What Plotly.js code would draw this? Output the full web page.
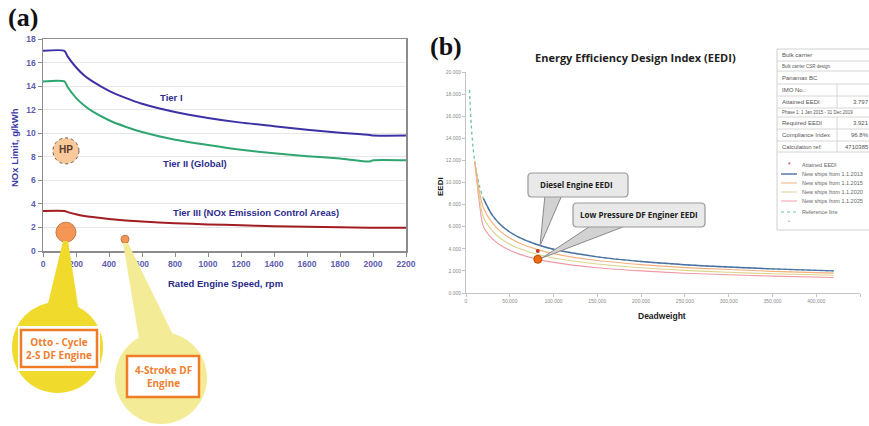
<!DOCTYPE html>
<html><head><meta charset="utf-8">
<script src="https://cdn.plot.ly/plotly-3.0.1.min.js"></script>
<style>html,body{margin:0;padding:0;background:#fff;} #chart{width:869px;height:426px;}</style>
</head><body><div id="chart"></div>
<script>
// ---------- Panel (a): IMO NOx limits ----------
const rpm     = [0, 130, 150, 200, 250, 300, 400, 500, 600, 800, 1000, 1200, 1400, 1600, 1800, 1980, 2000, 2200];
const tierI   = [17.0, 17.0, 16.5, 15.6, 14.9, 14.4, 13.6, 13.0, 12.5, 11.8, 11.3, 10.9, 10.6, 10.3, 10.05, 9.85, 9.8, 9.8];
const tierII  = [14.4, 14.4, 13.9, 13.0, 12.35, 11.85, 11.1, 10.55, 10.1, 9.45, 9.0, 8.6, 8.3, 8.05, 7.85, 7.6, 7.7, 7.7];
const tierIII = [3.4, 3.4, 3.3, 3.12, 2.98, 2.88, 2.72, 2.6, 2.5, 2.36, 2.26, 2.18, 2.11, 2.06, 2.01, 1.97, 1.97, 1.97];
const tierNames = ['Tier I', 'Tier II (Global)', 'Tier III (NOx Emission Control Areas)'];
const tierLabelX = [776, 921, 1291];
const tierLabelY = [13.0, 7.47, 3.31];
const hpX = [139], hpY = [8.5], hpText = ['HP'];
const engineX = [139, 497], engineY = [1.6, 1.0];
const engineLabels = ['Otto - Cycle<br>2-S DF Engine', '4-Stroke DF<br>Engine'];

// ---------- Panel (b): EEDI ----------
const dwtRef   = [4000, 6000, 8000, 10000, 15000, 20000, 30000, 40000, 50000, 60000, 80000, 100000, 150000, 200000, 250000, 300000, 350000, 420000];
const eediRef  = [18.40, 15.17, 13.23, 11.89, 9.80, 8.54, 7.04, 6.14, 5.52, 5.06, 4.41, 3.96, 3.27, 2.85, 2.56, 2.35, 2.18, 2.00];
const dwt2013  = [20000, 30000, 40000, 50000, 60000, 80000, 100000, 150000, 200000, 250000, 300000, 350000, 420000];
const eedi2013 = [8.54, 7.04, 6.14, 5.52, 5.06, 4.41, 3.96, 3.27, 2.85, 2.56, 2.35, 2.18, 2.00];
const dwtPhase = [10000, 15000, 20000, 30000, 40000, 50000, 60000, 80000, 100000, 150000, 200000, 250000, 300000, 350000, 420000];
const eedi2015 = [11.89, 9.31, 7.69, 6.34, 5.53, 4.97, 4.55, 3.97, 3.56, 2.94, 2.57, 2.30, 2.12, 1.96, 1.80];
const eedi2020 = [11.89, 8.82, 6.83, 5.63, 4.91, 4.42, 4.05, 3.53, 3.17, 2.62, 2.28, 2.05, 1.88, 1.74, 1.60];
const eedi2025 = [11.89, 8.33, 5.98, 4.93, 4.30, 3.86, 3.54, 3.09, 2.77, 2.29, 2.00, 1.79, 1.65, 1.53, 1.40];
const attainedX = [82000], attainedY = [3.797];
const lpdfX = [82000], lpdfY = [3.05];
const bSeriesNames = ['Attained EEDI', 'New ships from 1.1.2013', 'New ships from 1.1.2015', 'New ships from 1.1.2020', 'New ships from 1.1.2025', 'Reference line', '*'];
const bSeriesColors = ['#c0392b', '#4a6fa5', '#f3b07a', '#ddd48a', '#f09aa6', '#6cc3a0', '#8fa8c8'];
const tableLabels = ['Bulk carrier', 'Bulk carrier CSR design', 'Panamax BC', 'IMO No.:', 'Attained EEDI', 'Phase 1: 1 Jan 2015 - 31 Dec 2019', 'Required EEDI', 'Compliance Index', 'Calculation ref:'];
const tableValues = ['', '', '', '', '3.797', '', '3.921', '96.8%', '4710385'];

// ---------- helpers (pixel -> paper) ----------
const W = 869, H = 426;
const X = v => v / W, Y = v => 1 - v / H;
const P = (x, y) => X(x).toFixed(5) + ',' + Y(y).toFixed(5);
function poly(pts) { return 'M' + pts.map(p => P(p[0], p[1])).join(' L') + ' Z'; }
function rrect(x0, y0, x1, y1, r) {
  return 'M' + P(x0 + r, y0) + ' L' + P(x1 - r, y0) + ' Q' + P(x1, y0) + ' ' + P(x1, y0 + r) +
    ' L' + P(x1, y1 - r) + ' Q' + P(x1, y1) + ' ' + P(x1 - r, y1) +
    ' L' + P(x0 + r, y1) + ' Q' + P(x0, y1) + ' ' + P(x0, y1 - r) +
    ' L' + P(x0, y0 + r) + ' Q' + P(x0, y0) + ' ' + P(x0 + r, y0) + ' Z';
}
function circ(cx, cy, r, fill, line) {
  return {type: 'circle', xref: 'paper', yref: 'paper', x0: X(cx - r), x1: X(cx + r), y0: Y(cy + r), y1: Y(cy - r),
    fillcolor: fill, line: {width: line ? 1 : 0, color: line || fill}};
}
function rect(x0, y0, x1, y1, fill, lc, lw) {
  return {type: 'rect', xref: 'paper', yref: 'paper', x0: X(x0), x1: X(x1), y0: Y(y1), y1: Y(y0),
    fillcolor: fill, line: {width: lw || 0, color: lc || fill}};
}
function path(d, fill, lc, lw) {
  return {type: 'path', xref: 'paper', yref: 'paper', path: d, fillcolor: fill, line: {width: lw || 0, color: lc || fill}};
}
function line(x0, y0, x1, y1, c, w, dash) {
  return {type: 'line', xref: 'paper', yref: 'paper', x0: X(x0), x1: X(x1), y0: Y(y0), y1: Y(y1), line: {color: c, width: w, dash: dash || 'solid'}};
}
function txt(x, y, text, size, color, opts) {
  return Object.assign({xref: 'paper', yref: 'paper', x: X(x), y: Y(y), text: text, showarrow: false,
    xanchor: 'center', yanchor: 'middle', font: {family: 'Liberation Sans, Arial, sans-serif', size: size, color: color}}, opts || {});
}

// ---------- traces ----------
const tierColors = ['#3c31a6', '#2fa56f', '#a11d22'];
const traces = [];
[tierI, tierII, tierIII].forEach((ys, i) => traces.push({
  x: rpm, y: ys, name: tierNames[i], type: 'scatter', mode: 'lines', xaxis: 'x', yaxis: 'y',
  line: {color: tierColors[i], width: 2, shape: 'spline', smoothing: 0.6}, showlegend: false, hoverinfo: 'skip'}));
traces.push({x: hpX, y: hpY, text: hpText, type: 'scatter', mode: 'markers+text', xaxis: 'x', yaxis: 'y',
  marker: {size: 26, color: '#f9c89b', line: {width: 0}}, textposition: 'middle center',
  textfont: {family: 'Liberation Sans, Arial', size: 10, color: '#5a3a2a', weight: 'bold'}, showlegend: false, hoverinfo: 'skip'});
traces.push({x: engineX, y: engineY, type: 'scatter', mode: 'markers', xaxis: 'x', yaxis: 'y', cliponaxis: false,
  marker: {size: [20, 8], color: '#f26b10', line: {width: 1, color: '#a44200'}}, showlegend: false, hoverinfo: 'skip'});

const spl = {shape: 'spline', smoothing: 0.8};
traces.push({x: dwtRef, y: eediRef, name: bSeriesNames[5], type: 'scatter', mode: 'lines', xaxis: 'x2', yaxis: 'y2',
  line: Object.assign({color: bSeriesColors[5], width: 1.3, dash: 'dot'}, spl), showlegend: false, hoverinfo: 'skip'});
traces.push({x: dwtPhase, y: eedi2025, name: bSeriesNames[4], type: 'scatter', mode: 'lines', xaxis: 'x2', yaxis: 'y2',
  line: Object.assign({color: bSeriesColors[4], width: 1.1}, spl), showlegend: false, hoverinfo: 'skip'});
traces.push({x: dwtPhase, y: eedi2020, name: bSeriesNames[3], type: 'scatter', mode: 'lines', xaxis: 'x2', yaxis: 'y2',
  line: Object.assign({color: bSeriesColors[3], width: 1.1}, spl), showlegend: false, hoverinfo: 'skip'});
traces.push({x: dwtPhase, y: eedi2015, name: bSeriesNames[2], type: 'scatter', mode: 'lines', xaxis: 'x2', yaxis: 'y2',
  line: Object.assign({color: bSeriesColors[2], width: 1.1}, spl), showlegend: false, hoverinfo: 'skip'});
traces.push({x: dwt2013, y: eedi2013, name: bSeriesNames[1], type: 'scatter', mode: 'lines', xaxis: 'x2', yaxis: 'y2',
  line: Object.assign({color: bSeriesColors[1], width: 1.4}, spl), showlegend: false, hoverinfo: 'skip'});
traces.push({x: attainedX, y: attainedY, name: bSeriesNames[0], type: 'scatter', mode: 'markers', xaxis: 'x2', yaxis: 'y2',
  marker: {size: 4, color: bSeriesColors[0]}, showlegend: false, hoverinfo: 'skip'});
traces.push({x: lpdfX, y: lpdfY, name: 'Low Pressure DF', type: 'scatter', mode: 'markers', xaxis: 'x2', yaxis: 'y2',
  marker: {size: 8, color: '#f26b10', line: {width: 1, color: '#b04a00'}}, showlegend: false, hoverinfo: 'skip'});

// ---------- shapes ----------
const shapes = [];
shapes.push({type: 'circle', xref: 'x', yref: 'y', xsizemode: 'pixel', ysizemode: 'pixel', xanchor: hpX[0], yanchor: hpY[0],
  x0: -13, x1: 13, y0: -13, y1: 13, line: {color: '#6a5a4a', width: 1, dash: 'dot'}, fillcolor: 'rgba(0,0,0,0)'});
// callout 1 (bright yellow)
shapes.push(path(poly([[63, 241], [68, 241], [79, 312], [46, 312]]), '#f0da2c'));
shapes.push(circ(57.5, 347.5, 45.5, '#f0da2c'));
shapes.push(rect(18, 326, 100, 371, '#ffffff'));
shapes.push(rect(21, 330, 97, 367, '#ffffff', '#f07c28', 2.5));
// callout 2 (pale yellow)
shapes.push(path(poly([[123, 243], [128, 243], [178, 345], [140, 345]]), '#f3eb95'));
shapes.push(circ(161, 378, 46, '#f3eb95'));
shapes.push(rect(127, 356, 199, 397, '#ffffff', '#f07c28', 2.5));
// panel b callouts
shapes.push(path(poly([[545, 195], [562, 195], [540, 246]]), '#d2d2d2', '#8a8a8a', 1));
shapes.push(path(rrect(528, 173, 628, 197, 4), '#e9e9e9', '#9a9a9a', 1.2));
shapes.push(path(poly([[592, 225], [628, 225], [542, 258]]), '#d2d2d2', '#8a8a8a', 1));
shapes.push(path(rrect(573, 203, 705, 227, 4), '#e9e9e9', '#9a9a9a', 1.2));
// table
const tTop = 49, rowB = [49, 61, 71, 84, 96, 108, 117, 129, 141, 152];
shapes.push(rect(777, tTop, 875, 230, '#ffffff', '#d0d0d0', 1));
for (let i = 1; i < rowB.length; i++) shapes.push(line(777, rowB[i], 875, rowB[i], '#d6d6d6', 1));
[3, 4, 6, 7, 8].forEach(i => shapes.push(line(837, rowB[i], 837, rowB[i + 1], '#d6d6d6', 1)));
const legY = [165, 174, 183, 192, 201, 212, 221];
[1, 2, 3, 4].forEach(i => shapes.push(line(781, legY[i], 797, legY[i], bSeriesColors[i], i === 1 ? 1.4 : 1)));
shapes.push(line(781, legY[5], 797, legY[5], bSeriesColors[5], 1.2, 'dot'));

// ---------- annotations ----------
const ann = [];
ann.push(txt(23, 17, '<b>(a)</b>', 26, '#111', {font: {family: 'Liberation Serif, Times New Roman, serif', size: 26, color: '#111'}}));
ann.push(txt(446, 46, '<b>(b)</b>', 26, '#111', {font: {family: 'Liberation Serif, Times New Roman, serif', size: 26, color: '#111'}}));
tierNames.forEach((n, i) => ann.push({xref: 'x', yref: 'y', x: tierLabelX[i], y: tierLabelY[i], text: '<b>' + n + '</b>', showarrow: false,
  font: {family: 'Liberation Sans, Arial', size: 9.5, color: '#2e2e8e'}}));
ann.push(txt(14, 148, '<b>NOx Limit, g/kWh</b>', 9.5, '#3a3aa6', {textangle: -90}));
ann.push(txt(225, 283, '<b>Rated Engine Speed, rpm</b>', 9.5, '#2a2a8a'));
ann.push(txt(59, 348, '<b>' + engineLabels[0] + '</b>', 10, '#f08030', {font: {family: 'Open Sans, Liberation Sans', size: 10, color: '#f08030'}}));
ann.push(txt(163, 376, '<b>' + engineLabels[1] + '</b>', 10, '#f08030', {font: {family: 'Open Sans, Liberation Sans', size: 10, color: '#f08030'}}));
ann.push(txt(635, 57, '<b>Energy Efficiency Design Index (EEDI)</b>', 11, '#222', {font: {family: 'Open Sans, Liberation Sans', size: 11, color: '#222'}}));
ann.push(txt(440, 187, '<b>EEDI</b>', 8, '#222', {textangle: -90}));
ann.push(txt(662, 316, '<b>Deadweight</b>', 8.5, '#222'));
ann.push(txt(576, 185, '<b>Diesel Engine EEDI</b>', 8, '#222', {font: {family: 'Open Sans, Liberation Sans', size: 8, color: '#222'}}));
ann.push(txt(639, 215, '<b>Low Pressure DF Enginer EEDI</b>', 8, '#222', {font: {family: 'Open Sans, Liberation Sans', size: 8, color: '#222'}}));
tableLabels.forEach((t, i) => {
  const yc = (rowB[i] + rowB[i + 1]) / 2;
  const small = (i === 1 || i === 5);
  ann.push(txt(780, yc, t, small ? 4.5 : 6, '#555', {xanchor: 'left'}));
  if (tableValues[i]) ann.push(txt(871, yc, tableValues[i], 6, '#555', {xanchor: 'right'}));
});
bSeriesNames.forEach((n, i) => {
  if (n === '*') { ann.push(txt(789, legY[i], '•', 6, '#8fa8c8')); return; }
  if (i === 0) ann.push(txt(789, legY[i], '*', 7, bSeriesColors[0]));
  ann.push(txt(800, legY[i], n, 5.5, '#666', {xanchor: 'left'}));
});

// ---------- layout ----------
const tickA = {family: 'Liberation Sans, Arial', size: 8.5, color: '#5c5cb0', weight: 'bold'};
const tickB = {family: 'Liberation Sans, Arial', size: 5, color: '#8a8a8a'};
const layout = {
  width: W, height: H, margin: {l: 0, r: 0, t: 0, b: 0}, paper_bgcolor: '#fff', plot_bgcolor: 'rgba(0,0,0,0)',
  showlegend: false,
  xaxis: {domain: [X(43), X(406)], range: [0, 2200], dtick: 200, anchor: 'y', showline: true, mirror: true,
    linecolor: '#8c8c8c', linewidth: 1.5, ticks: 'outside', ticklen: 4, tickcolor: '#8c8c8c', tickfont: tickA,
    showgrid: false, zeroline: false, fixedrange: true},
  yaxis: {domain: [Y(251), Y(39)], range: [0, 18], dtick: 2, anchor: 'x', showline: true, mirror: true,
    linecolor: '#8c8c8c', linewidth: 1.5, ticks: 'outside', ticklen: 4, tickcolor: '#8c8c8c', tickfont: tickA,
    showgrid: true, gridcolor: '#e6e6e6', gridwidth: 1, zeroline: false, fixedrange: true},
  xaxis2: {domain: [X(466), X(860)], range: [0, 450000], dtick: 50000, tickformat: ',d', anchor: 'y2', showline: true,
    linecolor: '#c4c4c4', linewidth: 1, ticks: 'outside', ticklen: 3, tickcolor: '#c4c4c4', tickfont: tickB,
    showgrid: false, zeroline: false, fixedrange: true},
  yaxis2: {domain: [Y(293), Y(72)], range: [0, 20], dtick: 2, tickformat: '.3f', anchor: 'x2', showline: true,
    linecolor: '#c4c4c4', linewidth: 1, ticks: 'outside', ticklen: 3, tickcolor: '#c4c4c4', tickfont: tickB,
    showgrid: false, zeroline: false, fixedrange: true},
  shapes: shapes, annotations: ann
};
Plotly.newPlot('chart', traces, layout, {staticPlot: true, displayModeBar: false});
</script></body></html>
